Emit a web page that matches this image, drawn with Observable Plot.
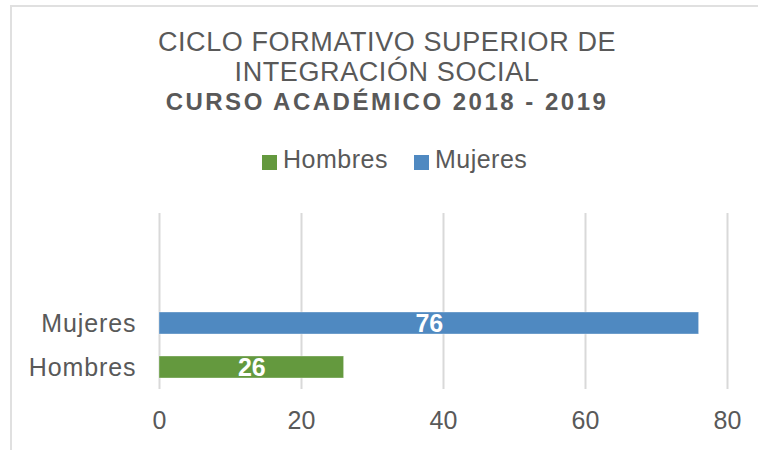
<!DOCTYPE html>
<html>
<head>
<meta charset="utf-8">
<script src="https://cdn.jsdelivr.net/npm/d3@7"></script>
<script src="https://cdn.jsdelivr.net/npm/@observablehq/plot@0.6"></script>
<style>
  html, body { margin: 0; padding: 0; background: #fff; overflow: hidden; }
  body { width: 758px; height: 450px; position: relative; font-family: "Liberation Sans", Arial, sans-serif; color: #595959; }
  #frame { position: absolute; left: 10px; top: 5px; width: 780px; height: 480px; border-left: 2px solid #e0e0e0; border-top: 2px solid #e0e0e0; box-sizing: border-box; }
  .tl { position: absolute; left: 0; width: 774px; text-align: center; line-height: 1; white-space: nowrap; }
  #t1 { top: 29px; font-size: 27px; letter-spacing: 0.6px; }
  #t2 { top: 59px; font-size: 27px; letter-spacing: 0.6px; }
  #t3 { top: 90px; font-size: 24px; font-weight: bold; letter-spacing: 2.5px; }
  #legend { position: absolute; left: 262px; top: 147px; display: flex; align-items: center; font-size: 25px; line-height: 1; white-space: nowrap; }
  .sw { display: inline-block; width: 15px; height: 15px; margin-right: 6px; position: relative; top: 3px; }
  .item { display: flex; align-items: center; margin-right: 26px; letter-spacing: 0.5px; }
  #chart { position: absolute; left: 0; top: 190px; }
  #chart g[aria-label="y-axis tick label"] text { letter-spacing: 0.9px; }
</style>
</head>
<body>
<div id="frame"></div>
<div class="tl" id="t1">CICLO FORMATIVO SUPERIOR DE</div>
<div class="tl" id="t2">INTEGRACIÓN SOCIAL</div>
<div class="tl" id="t3">CURSO ACADÉMICO 2018 - 2019</div>
<div id="legend"></div>
<div id="chart"></div>
<script>
const categories = ["Hombres", "Mujeres"];
const values = [26, 76];
const xTicks = [0, 20, 40, 60, 80];
const colors = ["#64993E", "#4F89C1"];

const data = categories.map((c, i) => ({category: c, value: values[i]}));

// legend
const legend = document.getElementById("legend");
categories.forEach((c, i) => {
  const item = document.createElement("div");
  item.className = "item";
  const sw = document.createElement("span");
  sw.className = "sw";
  sw.style.background = colors[i];
  item.appendChild(sw);
  item.appendChild(document.createTextNode(c));
  legend.appendChild(item);
});

const W = 758, H = 260, mTop = 23, mBottom = 61;
const plotH = H - mTop - mBottom;

const chart = Plot.plot({
  width: W,
  height: H,
  marginLeft: 159,
  marginRight: 31,
  marginTop: mTop,
  marginBottom: mBottom,
  style: {fontFamily: "Liberation Sans, Arial, sans-serif", fontSize: "25px", color: "#595959", background: "transparent"},
  x: {domain: [0, 80], ticks: xTicks},
  y: {domain: ["Mujeres", "Hombres"], range: [mTop + plotH / 2, mTop + plotH], paddingInner: 0.5, paddingOuter: 0.25},
  color: {domain: categories, range: colors},
  marks: [
    Plot.gridX(xTicks, {stroke: "#d9d9d9", strokeOpacity: 1, strokeWidth: 2}),
    Plot.barX(data, {x: "value", y: "category", fill: "category", stroke: "#ffffff", strokeOpacity: 0.35, strokeWidth: 1}),
    Plot.text(data, {x: d => d.value / 2, y: "category", text: d => String(d.value), fill: "white", fontWeight: "bold", fontSize: 25}),
    Plot.axisX(xTicks, {tickSize: 0, tickPadding: 22, fontSize: 25, fill: "#595959", label: null}),
    Plot.axisY({tickSize: 0, tickPadding: 23, fontSize: 25, fill: "#595959", label: null})
  ]
});
document.getElementById("chart").appendChild(chart);
</script>
</body>
</html>
